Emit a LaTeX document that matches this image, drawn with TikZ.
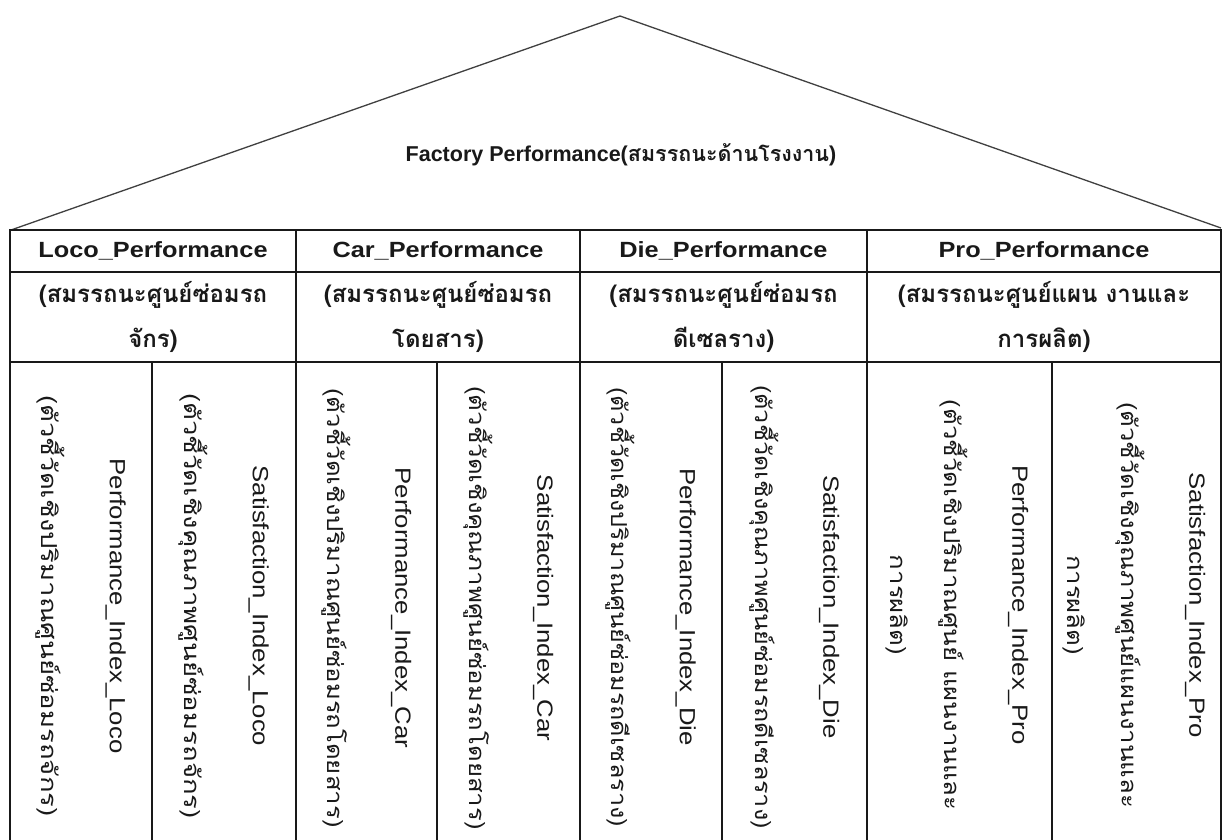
\documentclass[tikz,border=0pt]{standalone}
\usepackage{fontspec}
\setmainfont{Liberation Sans}
\newfontfamily\thaifont[Script=Thai]{Loma}
\newfontfamily\hdfont[FakeStretch=1.15]{Liberation Sans}
\newfontfamily\vfont[FakeStretch=1.17]{Liberation Sans}
% Thai indicator lines, widened to fill each column's height
\newfontfamily\vthaiwide[Script=Thai,FakeStretch=1.25]{Loma}
\newfontfamily\vthaimid[Script=Thai,FakeStretch=1.17]{Loma}
\newfontfamily\vthainarrow[Script=Thai,FakeStretch=1.145]{Loma}
\newcommand{\thx}[1]{{\thaifont #1}}
\begin{document}
\begin{tikzpicture}[x=1pt,y=-1pt,
  roofline/.style={line width=1.3pt, black!75},
  gridline/.style={line width=2.8pt, black!90},
  title/.style={font=\bfseries\fontsize{21.5}{26}\selectfont, text=black!90},
  head/.style={font=\hdfont\bfseries\fontsize{22}{26}\selectfont, text=black!90},
  sub/.style={font=\bfseries\fontsize{24}{45}\selectfont, align=center, text=black!90, inner sep=0pt},
  vtext/.style={rotate=-90, align=center, font=\vfont\fontsize{22}{68}\selectfont, text=black!90, inner sep=0pt}]
\useasboundingbox (0,0) rectangle (1223,840);
\fill[white] (0,0) rectangle (1223,840);

% roof
\coordinate (eaveL) at (11,230);
\coordinate (apex) at (620,16);
\coordinate (eaveR) at (1221,228);
\draw[roofline] (eaveL) -- (apex) -- (eaveR);
\node[title] (factory) at (621,155) {Factory Performance(\thx{สมรรถนะด้านโรงงาน})};

% table grid
\draw[gridline] (10,840) -- (10,230) -- (1221,230) -- (1221,840);
\draw[gridline] (10,272) -- (1221,272);
\draw[gridline] (10,362) -- (1221,362);
\foreach \x in {296,580,867} \draw[gridline] (\x,230) -- (\x,840);
\foreach \x in {152,437,722,1052} \draw[gridline] (\x,362) -- (\x,840);

% column headings
\node[head] (locoH) at (153,251) {Loco\_Performance};
\node[head] (carH)  at (438,251) {Car\_Performance};
\node[head] (dieH)  at (723.5,251) {Die\_Performance};
\node[head] (proH)  at (1044,251) {Pro\_Performance};

\node[sub] (locoT) at (153,317) {\thx{(สมรรถนะศูนย์ซ่อมรถ}\\\thx{จักร)}};
\node[sub] (carT)  at (438,317) {\thx{(สมรรถนะศูนย์ซ่อมรถ}\\\thx{โดยสาร)}};
\node[sub] (dieT)  at (723.5,317) {\thx{(สมรรถนะศูนย์ซ่อมรถ}\\\thx{ดีเซลราง)}};
\node[sub] (proT)  at (1044,317) {\thx{(สมรรถนะศูนย์แผน งานและ}\\\thx{การผลิต)}};

% indicator columns
\node[vtext] (locoP) at (81,606) {Performance\_Index\_Loco\\{\vthaiwide (ตัวชี้วัดเชิงปริมาณศูนย์ซ่อมรถจักร)}};
\node[vtext] (locoS) at (224,606) {Satisfaction\_Index\_Loco\\{\vthaiwide (ตัวชี้วัดเชิงคุณภาพศูนย์ซ่อมรถจักร)}};
\node[vtext] (carP) at (366.5,608) {Performance\_Index\_Car\\{\vthaimid (ตัวชี้วัดเชิงปริมาณศูนย์ซ่อมรถโดยสาร)}};
\node[vtext] (carS) at (508.5,608) {Satisfaction\_Index\_Car\\{\vthaimid (ตัวชี้วัดเชิงคุณภาพศูนย์ซ่อมรถโดยสาร)}};
\node[vtext] (dieP) at (651,607) {Performance\_Index\_Die\\{\vthainarrow (ตัวชี้วัดเชิงปริมาณศูนย์ซ่อมรถดีเซลราง)}};
\node[vtext] (dieS) at (794.5,607) {Satisfaction\_Index\_Die\\{\vthainarrow (ตัวชี้วัดเชิงคุณภาพศูนย์ซ่อมรถดีเซลราง)}};
\node[vtext] (proP) at (957,605) {Performance\_Index\_Pro\\{\vthaimid (ตัวชี้วัดเชิงปริมาณศูนย์ แผนงานและ}\\[-14pt]{\vthaimid การผลิต)}};
\node[vtext] (proS) at (1134,605) {Satisfaction\_Index\_Pro\\{\vthaimid (ตัวชี้วัดเชิงคุณภาพศูนย์แผนงานและ}\\[-14pt]{\vthaimid การผลิต)}};
\end{tikzpicture}
\end{document}
